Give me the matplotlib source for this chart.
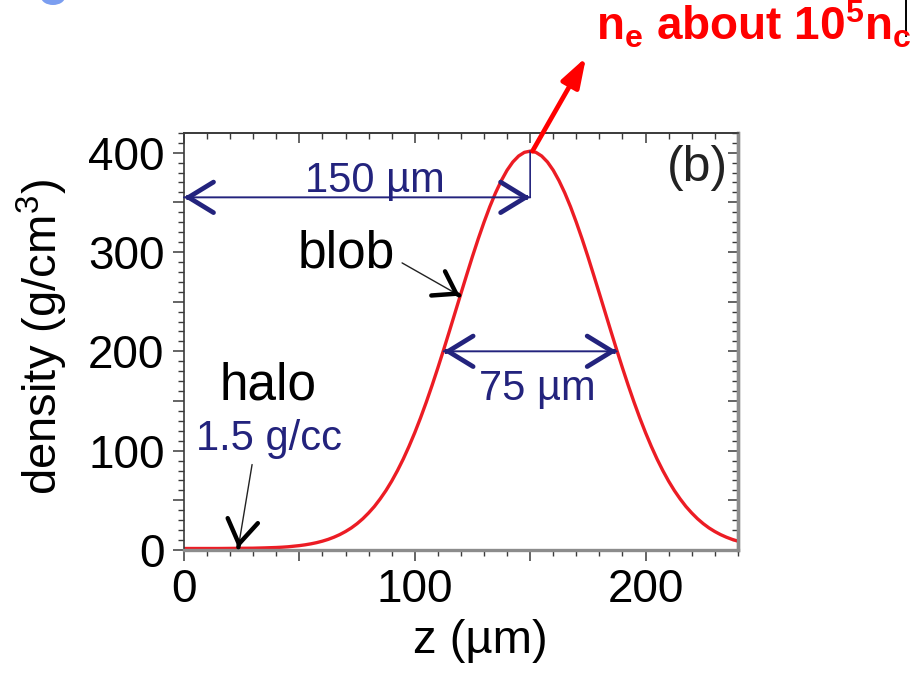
import matplotlib
matplotlib.use("Agg")
import matplotlib.pyplot as plt
from matplotlib import font_manager
from matplotlib.ticker import MultipleLocator, FuncFormatter, NullFormatter
from matplotlib.patches import Ellipse
from matplotlib.lines import Line2D

# Density profile of the blob along z
z_um = [0, 5, 10, 15, 20, 25, 30, 35,
        40, 42.5, 45, 47.5, 50, 52.5, 55, 57.5, 60, 62.5, 65, 67.5, 70, 72.5,
        75, 77.5, 80, 82.5, 85, 87.5, 90, 92.5, 95, 97.5, 100, 102.5, 105,
        107.5, 110, 112.5, 115, 117.5, 120, 122.5, 125, 127.5, 130, 132.5,
        135, 137.5, 140, 142.5, 145, 147.5, 150, 152.5, 155, 157.5, 160,
        162.5, 165, 167.5, 170, 172.5, 175, 177.5, 180, 182.5, 185, 187.5,
        190, 192.5, 195, 197.5, 200, 202.5, 205, 207.5, 210, 212.5, 215,
        217.5, 220, 222.5, 225, 227.5, 230, 232.5, 235, 237.5, 240]
density = [1.5, 1.5, 1.5, 1.5, 1.6, 1.7, 1.8, 2.1,
           2.5, 2.8, 3.2, 3.8, 4.4, 5.2, 6.2, 7.4, 8.9, 10.7, 12.9, 15.5,
           18.6, 22.2, 26.5, 31.5, 37.3, 43.8, 51.4, 59.8, 69.3, 79.9, 91.5,
           104.3, 118.1, 133.0, 148.9, 165.7, 183.3, 201.5, 220.2, 239.2,
           258.2, 277.0, 295.5, 313.2, 329.9, 345.5, 359.5, 371.8, 382.3,
           390.6, 396.6, 400.3, 401.5, 400.3, 396.6, 390.6, 382.3, 371.8,
           359.5, 345.5, 329.9, 313.2, 295.5, 277.0, 258.2, 239.2, 220.2,
           201.5, 183.3, 165.7, 148.9, 133.0, 118.1, 104.3, 91.5, 79.9, 69.3,
           59.8, 51.4, 43.8, 37.3, 31.5, 26.5, 22.2, 18.6, 15.5, 12.9, 10.7,
           8.9]

peak_z = 150.0      # blob centre (um)
fwhm = 75.0         # full width at half maximum (um)
half_max = 200.0    # density at half maximum (g/cm^3)
halo_density = 1.5  # g/cc

x_tick_labels = [0, 100, 200]
y_tick_labels = [0, 100, 200, 300, 400]

names = {f.name for f in font_manager.fontManager.ttflist}
bold_face = "Liberation Sans Narrow" if "Liberation Sans Narrow" in names else "Liberation Sans"

plt.rcParams["font.family"] = ["Liberation Sans", "DejaVu Sans"]
plt.rcParams["mathtext.fontset"] = "custom"
plt.rcParams["mathtext.rm"] = "Liberation Sans"
plt.rcParams["mathtext.it"] = "Liberation Sans:italic"
plt.rcParams["mathtext.bf"] = f"{bold_face}:bold"

NAVY = "#23237d"
RED = "#ec1c24"
AXC = "#3a3a3a"

fig = plt.figure(figsize=(9.2, 6.74), dpi=100)
ax = fig.add_axes([0.2, 0.184, 0.602, 0.619])

ax.plot(z_um, density, color=RED, lw=2.4, solid_joinstyle="round")
ax.set_xlim(0, 240)
ax.set_ylim(0, 420)

# spines: light frame on top/left, heavier shaded frame on bottom/right
for side in ("left", "top"):
    ax.spines[side].set_color(AXC)
    ax.spines[side].set_linewidth(1.2)
for side in ("bottom", "right"):
    ax.spines[side].set_color("#8c8c8c")
    ax.spines[side].set_linewidth(2.4)

def only_labels(allowed):
    def fmt(v, pos):
        iv = int(round(v))
        return str(iv) if abs(v - iv) < 1e-6 and iv in allowed else ""
    return FuncFormatter(fmt)

ax.xaxis.set_major_locator(MultipleLocator(50))
ax.xaxis.set_minor_locator(MultipleLocator(10))
ax.yaxis.set_major_locator(MultipleLocator(50))
ax.yaxis.set_minor_locator(MultipleLocator(10))
ax.xaxis.set_major_formatter(only_labels(x_tick_labels))
ax.yaxis.set_major_formatter(only_labels(y_tick_labels))
ax.tick_params(which="major", direction="out", length=8, width=1.1, color=AXC,
               labelsize=33, pad=5)
ax.tick_params(which="minor", direction="out", length=4, width=1.0, color=AXC)
ax.tick_params(axis="y", pad=6)

# mirrored inward ticks on top and right
secx = ax.secondary_xaxis("top")
secx.xaxis.set_major_locator(MultipleLocator(50))
secx.xaxis.set_minor_locator(MultipleLocator(10))
secx.xaxis.set_major_formatter(NullFormatter())
secx.tick_params(which="major", direction="in", length=7, width=1.1, color=AXC)
secx.tick_params(which="minor", direction="in", length=4, width=1.0, color=AXC)
secx.spines["top"].set_color(AXC)
secx.spines["top"].set_linewidth(1.2)

secy = ax.secondary_yaxis("right")
secy.yaxis.set_major_locator(MultipleLocator(50))
secy.yaxis.set_minor_locator(MultipleLocator(10))
secy.yaxis.set_major_formatter(NullFormatter())
secy.tick_params(which="major", direction="in", length=7, width=1.1, color=AXC)
secy.tick_params(which="minor", direction="in", length=4, width=1.0, color=AXC)
secy.spines["right"].set_color("#8c8c8c")
secy.spines["right"].set_linewidth(2.4)

ax.set_xlabel("z (\u00b5m)", fontsize=34)
ax.xaxis.set_label_coords(0.535, -0.165)
ax.set_ylabel("density (g/cm$^3$)", fontsize=34)
ax.yaxis.set_label_coords(-0.205, 0.51)


def chevron(tip, tail, color, lw, hl=1.8, hw=1.1):
    """Open arrow head at `tip`, oriented along tail -> tip."""
    back = (tip[0] - 0.01 * (tip[0] - tail[0]), tip[1] - 0.01 * (tip[1] - tail[1]))
    ax.annotate("", xy=tip, xytext=back, annotation_clip=False,
                arrowprops=dict(arrowstyle=f"->,head_length={hl},head_width={hw}",
                                color=color, lw=lw, mutation_scale=10,
                                shrinkA=0, shrinkB=0, joinstyle="miter"))


def shaft(a, b, color, lw):
    ax.annotate("", xy=b, xytext=a, annotation_clip=False,
                arrowprops=dict(arrowstyle="-", color=color, lw=lw,
                                shrinkA=0, shrinkB=0))


# 150 um: distance from origin to blob centre
y150 = 355
peak_density = max(density)
shaft((0, y150), (peak_z, y150), NAVY, 1.4)
shaft((peak_z, y150), (peak_z, peak_density), NAVY, 1.2)
chevron((0, y150), (peak_z, y150), NAVY, 3.4)
chevron((peak_z, y150), (0, y150), NAVY, 3.4)
ax.text(82.5, 360, "150 \u00b5m", color=NAVY, fontsize=30, ha="center", va="baseline")

# 75 um: full width at half maximum
z_lo, z_hi = peak_z - fwhm / 2, peak_z + fwhm / 2
shaft((z_lo, half_max), (z_hi, half_max), NAVY, 1.4)
chevron((z_lo, half_max), (z_hi, half_max), NAVY, 3.4)
chevron((z_hi, half_max), (z_lo, half_max), NAVY, 3.4)
ax.text(153, 151, "75 \u00b5m", color=NAVY, fontsize=30, ha="center", va="baseline")

# blob label
ax.text(70.5, 284, "blob", color="black", fontsize=37, ha="center", va="baseline")
blob_tail, blob_tip = (94.5, 289), (119.5, 256)
shaft(blob_tail, blob_tip, "#222222", 1.0)
chevron(blob_tip, blob_tail, "black", 3.2, hl=1.5, hw=1.0)

# halo label
ax.text(36.5, 151, "halo", color="black", fontsize=37, ha="center", va="baseline")
ax.text(37, 101, "1.5 g/cc", color=NAVY, fontsize=30, ha="center", va="baseline")
halo_tail, halo_tip = (29.5, 86), (23.5, halo_density + 0.5)
shaft(halo_tail, halo_tip, "#222222", 1.0)
chevron(halo_tip, halo_tail, "black", 3.2, hl=1.7, hw=1.1)

# panel tag
ax.text(222.5, 371, "(b)", color="#222222", fontsize=36, ha="center", va="baseline")

# electron density callout above the peak
ax.annotate("", xy=(0.637, 0.915), xycoords="figure fraction",
            xytext=(peak_z + 1, peak_density), textcoords="data",
            annotation_clip=False,
            arrowprops=dict(arrowstyle="-|>,head_length=1.8,head_width=0.6",
                            color="#ff0000", lw=3.4, mutation_scale=10,
                            shrinkA=0, shrinkB=0))
fig.text(596 / 920, 1 - 40 / 674, r"$\mathbf{n_e\ about\ 10^5n_c}$",
         color="#ff0000", fontsize=33, ha="left", va="baseline")

# edge decorations from the surrounding layout
fig.add_artist(Line2D([906 / 920, 906 / 920], [1.0, 1 - 36 / 674],
                      transform=fig.transFigure, color="black", lw=1.4))
fig.add_artist(Ellipse((53 / 920, 1 + 3 / 674), 24 / 920, 16 / 674,
                       transform=fig.transFigure, color="#7b9ef0", lw=0))

fig.savefig("out.png", dpi=100)
